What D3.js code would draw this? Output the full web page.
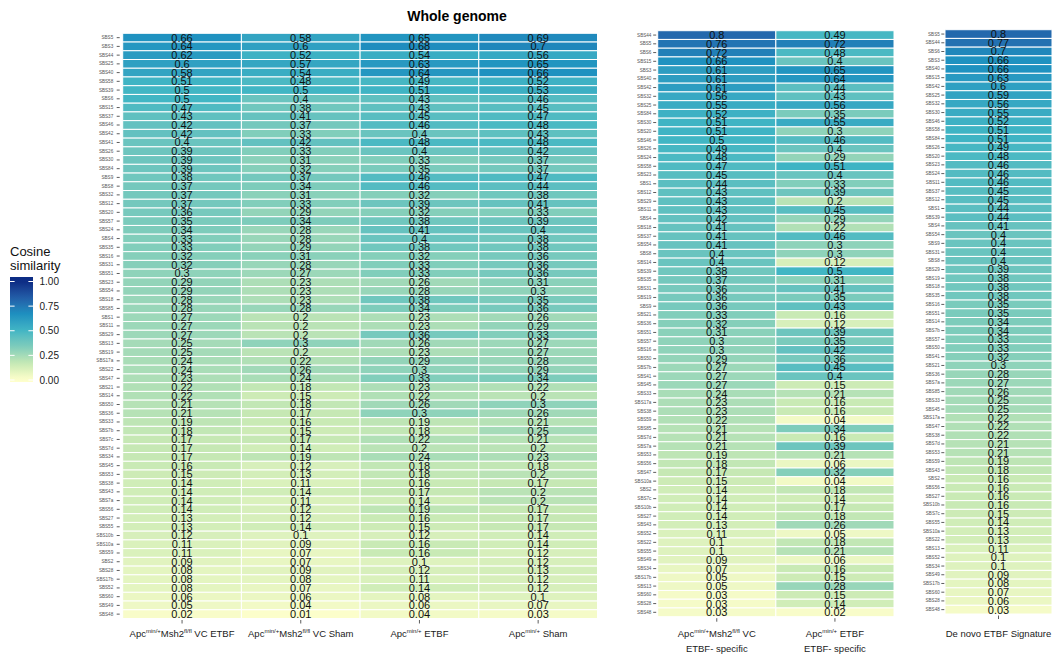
<!DOCTYPE html>
<html>
<head>
<meta charset="utf-8">
<script src="https://cdn.jsdelivr.net/npm/d3@7"></script>
<style>
  body { margin: 0; background: #fff; }
  svg text { font-family: "Liberation Sans", Arial, Helvetica, sans-serif; }
</style>
</head>
<body>
<svg id="chart" width="1054" height="656"></svg>
<script>
// ---- whole genome panel (4 columns) ----
var wgSigs = ["SBS5","SBS3","SBS44","SBS25","SBS40","SBS58","SBS39","SBS6","SBS15","SBS37",
  "SBS46","SBS42","SBS41","SBS26","SBS30","SBS84","SBS9","SBS8","SBS32","SBS12",
  "SBS20","SBS57","SBS24","SBS4","SBS35","SBS16","SBS31","SBS51","SBS23","SBS54",
  "SBS18","SBS85","SBS1","SBS11","SBS29","SBS13","SBS19","SBS17a","SBS22","SBS47",
  "SBS21","SBS14","SBS50","SBS36","SBS33","SBS7b","SBS7c","SBS7d","SBS34","SBS45",
  "SBS53","SBS38","SBS43","SBS7a","SBS56","SBS27","SBS55","SBS10b","SBS10a","SBS59",
  "SBS2","SBS28","SBS17b","SBS52","SBS60","SBS49","SBS48"];
var wgLabels = [["Apc^{min/+}Msh2^{fl/fl} VC ETBF"], ["Apc^{min/+}Msh2^{fl/fl} VC Sham"], ["Apc^{min/+} ETBF"], ["Apc^{min/+} Sham"]];
var wgVcEtbf = [0.66,0.64,0.62,0.6,0.58,0.51,0.5,0.5,0.47,0.43,
  0.42,0.42,0.4,0.39,0.39,0.39,0.38,0.37,0.37,0.37,
  0.36,0.35,0.34,0.33,0.33,0.32,0.32,0.3,0.29,0.29,
  0.28,0.28,0.27,0.27,0.27,0.25,0.25,0.24,0.24,0.23,
  0.22,0.22,0.21,0.21,0.19,0.18,0.17,0.17,0.17,0.16,
  0.15,0.14,0.14,0.14,0.14,0.13,0.13,0.12,0.11,0.11,
  0.09,0.08,0.08,0.08,0.06,0.05,0.02];
var wgVcSham = [0.58,0.6,0.52,0.57,0.54,0.48,0.5,0.4,0.38,0.41,
  0.37,0.33,0.42,0.33,0.31,0.32,0.37,0.34,0.31,0.33,
  0.29,0.34,0.28,0.28,0.29,0.31,0.28,0.27,0.23,0.23,
  0.23,0.28,0.2,0.2,0.2,0.3,0.2,0.22,0.26,0.24,
  0.18,0.15,0.18,0.17,0.16,0.15,0.17,0.14,0.19,0.12,
  0.13,0.11,0.14,0.11,0.12,0.12,0.14,0.1,0.09,0.07,
  0.07,0.09,0.08,0.07,0.06,0.04,0.01];
var wgApcEtbf = [0.65,0.68,0.54,0.63,0.64,0.49,0.51,0.43,0.43,0.45,
  0.46,0.4,0.48,0.4,0.33,0.35,0.46,0.46,0.32,0.39,
  0.32,0.38,0.41,0.4,0.38,0.32,0.33,0.33,0.26,0.28,
  0.38,0.34,0.23,0.23,0.36,0.26,0.23,0.29,0.3,0.33,
  0.23,0.22,0.26,0.3,0.19,0.18,0.22,0.2,0.24,0.18,
  0.18,0.16,0.17,0.14,0.19,0.16,0.15,0.12,0.16,0.16,
  0.1,0.12,0.11,0.14,0.08,0.06,0.04];
var wgApcSham = [0.69,0.7,0.56,0.65,0.66,0.52,0.53,0.46,0.45,0.47,
  0.48,0.43,0.48,0.42,0.37,0.37,0.47,0.44,0.38,0.41,
  0.33,0.39,0.4,0.38,0.38,0.36,0.36,0.36,0.31,0.3,
  0.35,0.36,0.26,0.29,0.33,0.27,0.27,0.28,0.29,0.34,
  0.22,0.2,0.3,0.26,0.21,0.25,0.21,0.2,0.23,0.18,
  0.2,0.17,0.2,0.2,0.17,0.17,0.17,0.14,0.14,0.12,
  0.12,0.13,0.12,0.12,0.1,0.07,0.03];

// ---- ETBF-specific panel (2 columns) ----
var spSigs = ["SBS44","SBS5","SBS6","SBS15","SBS3","SBS40","SBS42","SBS32","SBS25","SBS84",
  "SBS30","SBS20","SBS46","SBS26","SBS24","SBS58","SBS23","SBS1","SBS12","SBS29",
  "SBS11","SBS4","SBS18","SBS37","SBS54","SBS8","SBS14","SBS39","SBS35","SBS31",
  "SBS19","SBS9","SBS21","SBS36","SBS51","SBS57","SBS16","SBS50","SBS7b","SBS41",
  "SBS45","SBS33","SBS17a","SBS38","SBS59","SBS85","SBS7d","SBS7a","SBS53","SBS56",
  "SBS47","SBS10a","SBS2","SBS7c","SBS10b","SBS27","SBS43","SBS52","SBS22","SBS55",
  "SBS49","SBS34","SBS17b","SBS13","SBS60","SBS28","SBS48"];
var spLabels = [["Apc^{min/+}Msh2^{fl/fl} VC", "ETBF- specific"], ["Apc^{min/+} ETBF", "ETBF- specific"]];
var spVc = [0.8,0.76,0.72,0.66,0.61,0.61,0.61,0.56,0.55,0.52,
  0.51,0.51,0.5,0.49,0.48,0.47,0.45,0.44,0.43,0.43,
  0.43,0.42,0.41,0.41,0.41,0.4,0.4,0.38,0.37,0.36,
  0.36,0.36,0.33,0.32,0.31,0.3,0.3,0.29,0.27,0.27,
  0.27,0.24,0.23,0.23,0.22,0.21,0.21,0.21,0.19,0.18,
  0.17,0.15,0.14,0.14,0.14,0.14,0.13,0.11,0.1,0.1,
  0.09,0.07,0.05,0.05,0.03,0.03,0.03];
var spApc = [0.49,0.72,0.48,0.4,0.65,0.64,0.44,0.43,0.56,0.35,
  0.55,0.3,0.46,0.4,0.29,0.51,0.4,0.33,0.39,0.2,
  0.45,0.29,0.22,0.46,0.3,0.3,0.12,0.5,0.31,0.41,
  0.35,0.43,0.16,0.12,0.39,0.35,0.42,0.36,0.45,0.4,
  0.15,0.21,0.16,0.16,0.04,0.34,0.16,0.39,0.21,0.06,
  0.32,0.04,0.18,0.14,0.17,0.18,0.26,0.05,0.18,0.21,
  0.06,0.16,0.15,0.28,0.15,0.14,0.02];

// ---- de novo signature panel (1 column) ----
var dnSigs = ["SBS5","SBS44","SBS6","SBS3","SBS40","SBS15","SBS42","SBS25","SBS32","SBS30",
  "SBS46","SBS58","SBS84","SBS26","SBS20","SBS23","SBS24","SBS11","SBS37","SBS12",
  "SBS1","SBS39","SBS4","SBS54","SBS9","SBS31","SBS8","SBS29","SBS19","SBS18",
  "SBS35","SBS16","SBS51","SBS14","SBS7b","SBS57","SBS50","SBS41","SBS21","SBS36",
  "SBS7a","SBS85","SBS33","SBS45","SBS17a","SBS47","SBS38","SBS7d","SBS53","SBS59",
  "SBS43","SBS2","SBS56","SBS27","SBS10b","SBS7c","SBS55","SBS10a","SBS22","SBS13",
  "SBS52","SBS34","SBS49","SBS17b","SBS60","SBS28","SBS48"];
var dnLabels = [["De novo ETBF Signature"]];
var dnVals = [0.8,0.77,0.7,0.66,0.66,0.63,0.6,0.59,0.56,0.55,
  0.52,0.51,0.51,0.49,0.48,0.46,0.46,0.46,0.45,0.45,
  0.44,0.44,0.41,0.4,0.4,0.4,0.4,0.39,0.38,0.38,
  0.38,0.35,0.35,0.34,0.34,0.33,0.33,0.32,0.3,0.28,
  0.27,0.26,0.25,0.25,0.22,0.22,0.22,0.21,0.21,0.19,
  0.18,0.16,0.16,0.16,0.16,0.15,0.14,0.13,0.13,0.11,
  0.1,0.1,0.09,0.08,0.07,0.06,0.03];

var legendBreaks = [0, 0.25, 0.5, 0.75, 1];

// YlGnBu distiller palette, interpolated in Lab like ggplot
var palette = ["#ffffcc","#c7e9b4","#7fcdbb","#41b6c4","#1d91c0","#225ea8","#0c2c84"];
var color = d3.scaleLinear()
  .domain(d3.range(palette.length).map(function(i) { return i / (palette.length - 1); }))
  .range(palette)
  .interpolate(d3.interpolateLab)
  .clamp(true);

var svg = d3.select("#chart");

// title
svg.append("text")
  .attr("x", 457).attr("y", 21)
  .attr("text-anchor", "middle")
  .attr("font-size", 14).attr("font-weight", "bold")
  .text("Whole genome");

// panel layout
var panels = [
  { sigs: wgSigs, labels: wgLabels, values: [wgVcEtbf, wgVcSham, wgApcEtbf, wgApcSham],
    x0: 122.7, x1: 597.5, y0: 33.3, y1: 618.5, axisGap: 3, tickPad: 3.5 },
  { sigs: spSigs, labels: spLabels, values: [spVc, spApc],
    x0: 657.7, x1: 894, y0: 30.7, y1: 616.7, axisGap: 1.5, tickPad: 1.8 },
  { sigs: dnSigs, labels: dnLabels, values: [dnVals],
    x0: 945, x1: 1052, y0: 29.7, y1: 614, axisGap: 0.7, tickPad: 1.5 }
];

// writes "Apc^{min/+}" style labels as tspans with superscripts
function richText(sel, str) {
  var parts = str.split(/\^\{([^}]*)\}/);
  var raised = false;
  parts.forEach(function(part, i) {
    if (part === "") return;
    var isSup = i % 2 === 1;
    var t = sel.append("tspan").text(part);
    if (isSup && !raised) { t.attr("dy", -3.6).attr("font-size", 6); raised = true; }
    else if (isSup) { t.attr("font-size", 6); }
    else if (raised) { t.attr("dy", 3.6); raised = false; }
  });
}

panels.forEach(function(p) {
  var cols = d3.range(p.values.length);
  var x = d3.scaleBand().domain(cols).range([p.x0, p.x1]);
  var y = d3.scaleBand().domain(p.sigs).range([p.y0, p.y1]);

  var cells = [];
  cols.forEach(function(c) {
    p.sigs.forEach(function(s, i) {
      cells.push({ col: c, sig: s, value: p.values[c][i] });
    });
  });

  var g = svg.append("g");

  // tiles
  g.selectAll("rect")
    .data(cells)
    .enter().append("rect")
      .attr("x", function(d) { return x(d.col); })
      .attr("y", function(d) { return y(d.sig); })
      .attr("width", x.bandwidth())
      .attr("height", y.bandwidth())
      .attr("fill", function(d) { return color(d.value); })
      .attr("stroke", "#fff")
      .attr("stroke-width", 1);

  // values
  g.selectAll("text.val")
    .data(cells)
    .enter().append("text")
      .attr("class", "val")
      .attr("x", function(d) { return x(d.col) + x.bandwidth() / 2; })
      .attr("y", function(d) { return y(d.sig) + y.bandwidth() / 2; })
      .attr("dy", "0.36em")
      .attr("text-anchor", "middle")
      .attr("font-size", 11)
      .attr("fill", "#111")
      .text(function(d) { return d.value; });

  // y axis with signature names
  var yAxis = svg.append("g")
    .attr("transform", "translate(" + (p.x0 - p.axisGap) + ",0)")
    .call(d3.axisLeft(y).tickSize(3).tickPadding(p.tickPad));
  yAxis.select(".domain").remove();
  yAxis.selectAll("line").attr("stroke", "#333").attr("stroke-width", 0.8);
  yAxis.selectAll("text").attr("font-size", 4.6).attr("fill", "#555").attr("font-family", null);

  // x axis ticks, labels written by hand for the superscripts
  var xAxis = svg.append("g")
    .attr("transform", "translate(0," + (p.y1 + 1.5) + ")")
    .call(d3.axisBottom(x).tickSize(3.5).tickFormat(""));
  xAxis.select(".domain").remove();
  xAxis.selectAll("line").attr("stroke", "#333").attr("stroke-width", 0.8);

  cols.forEach(function(c) {
    p.labels[c].forEach(function(line, li) {
      var t = svg.append("text")
        .attr("x", x(c) + x.bandwidth() / 2)
        .attr("y", 636.5 + li * 15)
        .attr("text-anchor", "middle")
        .attr("font-size", 9.5)
        .attr("fill", "#1a1a1a");
      richText(t, line);
    });
  });
});

// ---- legend ----
var lg = d3.scaleLinear().domain([0, 1]).range([380, 281.5]);
var barTop = 277, barBot = 382, barX = 10, barW = 23;

var grad = svg.append("defs").append("linearGradient")
  .attr("id", "cosGrad")
  .attr("x1", 0).attr("y1", 1).attr("x2", 0).attr("y2", 0);
var vLow = lg.invert(barBot), vHigh = lg.invert(barTop);
d3.range(0, 21).forEach(function(i) {
  var v = vLow + (vHigh - vLow) * i / 20;
  grad.append("stop")
    .attr("offset", (i / 20 * 100) + "%")
    .attr("stop-color", color(v));
});

svg.append("rect")
  .attr("x", barX).attr("y", barTop)
  .attr("width", barW).attr("height", barBot - barTop)
  .attr("fill", "url(#cosGrad)");

var lgTicks = svg.append("g");
legendBreaks.forEach(function(b) {
  lgTicks.append("line")
    .attr("x1", barX).attr("x2", barX + 4.6)
    .attr("y1", lg(b)).attr("y2", lg(b))
    .attr("stroke", "#fff").attr("stroke-width", 1);
  lgTicks.append("line")
    .attr("x1", barX + barW - 4.6).attr("x2", barX + barW)
    .attr("y1", lg(b)).attr("y2", lg(b))
    .attr("stroke", "#fff").attr("stroke-width", 1);
  lgTicks.append("text")
    .attr("x", 39.5).attr("y", lg(b))
    .attr("dy", "0.36em")
    .attr("font-size", 10)
    .attr("fill", "#1a1a1a")
    .text(d3.format(".2f")(b));
});

svg.append("text").attr("x", 10).attr("y", 256).attr("font-size", 13).attr("fill", "#111").text("Cosine");
svg.append("text").attr("x", 10).attr("y", 269.5).attr("font-size", 13).attr("fill", "#111").text("similarity");
</script>
</body>
</html>
